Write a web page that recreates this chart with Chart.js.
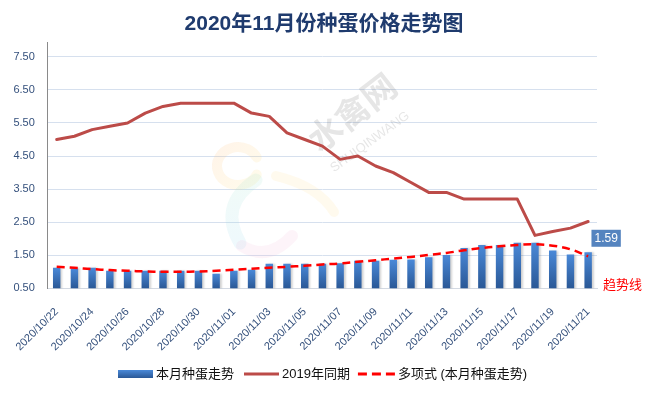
<!DOCTYPE html>
<html>
<head>
<meta charset="utf-8">
<script src="https://cdn.jsdelivr.net/npm/chart.js@4.4.1/dist/chart.umd.min.js"></script>
<style>
html,body{margin:0;padding:0;background:#ffffff;}
#wrap{width:647px;height:394px;position:relative;}
</style>
</head>
<body>
<div id="wrap"><canvas id="c" width="647" height="394"></canvas></div>
<script>
// ---- data ----
const categories = [
  '2020/10/22','2020/10/23','2020/10/24','2020/10/25','2020/10/26','2020/10/27','2020/10/28',
  '2020/10/29','2020/10/30','2020/10/31','2020/11/01','2020/11/02','2020/11/03','2020/11/04',
  '2020/11/05','2020/11/06','2020/11/07','2020/11/08','2020/11/09','2020/11/10','2020/11/11',
  '2020/11/12','2020/11/13','2020/11/14','2020/11/15','2020/11/16','2020/11/17','2020/11/18',
  '2020/11/19','2020/11/20','2020/11/21'
];
const eggPrices = [
  1.12, 1.10, 1.12, 1.03, 1.03, 1.03, 1.03, 1.03, 1.03, 0.94, 1.03, 1.06, 1.24, 1.24, 1.24, 1.24,
  1.26, 1.33, 1.33, 1.36, 1.37, 1.44, 1.51, 1.72, 1.81, 1.81, 1.88, 1.88, 1.64, 1.52, 1.59
];
const lastYearPrices = [
  5.0, 5.1, 5.3, 5.4, 5.5, 5.8, 6.0, 6.1, 6.1, 6.1, 6.1, 5.8, 5.7, 5.2, 5.0, 4.8,
  4.4, 4.5, 4.2, 4.0, 3.7, 3.4, 3.4, 3.2, 3.2, 3.2, 3.2, 2.1, 2.22, 2.32, 2.52
];
const trendValues = [
  1.15, 1.12, 1.08, 1.05, 1.03, 1.01, 1.00, 1.00, 1.01, 1.03, 1.06, 1.09, 1.12, 1.15, 1.18, 1.22,
  1.25, 1.30, 1.35, 1.40, 1.45, 1.51, 1.57, 1.65, 1.72, 1.77, 1.81, 1.83, 1.79, 1.68, 1.47
];
const yTickValues = [0.5, 1.5, 2.5, 3.5, 4.5, 5.5, 6.5, 7.5];
const seriesNames = ['本月种蛋走势', '2019年同期', '多项式 (本月种蛋走势)'];
const titleText = '2020年11月份种蛋价格走势图';
const trendNote = '趋势线';
const watermarkText = '水禽网';
const watermarkSub = 'SHUIQINWANG';

// ---- styles ----
const CJK = '"Liberation Sans","Noto Sans CJK SC",sans-serif';
const barTop = '#4A89D8', barBottom = '#2A5896';
const redLine = '#BC4B48', trendRed = '#FF0000';
const tickColor = '#34507C';

function barGradient(ctx, yTop, yBottom) {
  const g = ctx.createLinearGradient(0, yTop, 0, yBottom);
  g.addColorStop(0, barTop);
  g.addColorStop(1, barBottom);
  return g;
}

const decorPlugin = {
  id: 'decor',
  beforeDatasetsDraw(chart) {
    const c = chart.ctx;
    // faint logo
    c.save();
    c.lineCap = 'round';
    c.globalAlpha = 0.15;
    let g = c.createLinearGradient(215, 145, 260, 190);
    g.addColorStop(0, '#FFB36B'); g.addColorStop(1, '#FFE77A');
    c.strokeStyle = g; c.lineWidth = 10;
    c.beginPath(); c.ellipse(238, 166, 21, 19, 0, Math.PI * 0.15, Math.PI * 1.85); c.stroke();
    g = c.createLinearGradient(0, 175, 0, 250);
    g.addColorStop(0, '#9FE3C8'); g.addColorStop(1, '#8FD3F0');
    c.strokeStyle = g; c.lineWidth = 13;
    c.beginPath(); c.moveTo(256, 180); c.quadraticCurveTo(218, 205, 240, 243); c.stroke();
    c.strokeStyle = '#F2B3D6'; c.lineWidth = 12;
    c.beginPath(); c.moveTo(242, 246); c.quadraticCurveTo(268, 262, 292, 236); c.stroke();
    c.strokeStyle = '#FFE08A'; c.lineWidth = 10;
    c.beginPath(); c.moveTo(276, 176); c.quadraticCurveTo(318, 186, 334, 212); c.stroke();
    c.restore();
    // watermark text
    c.save();
    c.globalAlpha = 0.15;
    c.fillStyle = '#555555';
    c.translate(352, 112);
    c.rotate(-38 * Math.PI / 180);
    c.font = 'bold 34px "Noto Sans CJK SC",sans-serif';
    c.textAlign = 'center'; c.textBaseline = 'middle';
    c.fillText(watermarkText, 0, 0);
    c.restore();
    c.save();
    c.globalAlpha = 0.15;
    c.fillStyle = '#555555';
    c.translate(370, 142);
    c.rotate(-36 * Math.PI / 180);
    c.font = '13px "Liberation Sans",sans-serif';
    c.textAlign = 'center'; c.textBaseline = 'middle';
    c.fillText(watermarkSub, 0, 0);
    c.restore();
  },
  beforeDatasetDraw(chart, args) {
    if (args.index === 0) {
      const c = chart.ctx;
      c.save();
      c.shadowColor = 'rgba(0,0,0,0.18)';
      c.shadowOffsetX = 2;
      c.shadowOffsetY = 0;
      c.shadowBlur = 2;
    }
  },
  afterDatasetDraw(chart, args) {
    if (args.index === 0) chart.ctx.restore();
  },
  afterDraw(chart) {
    const c = chart.ctx;
    const area = chart.chartArea;
    // title
    c.save();
    c.font = 'bold 21px ' + CJK;
    c.fillStyle = '#1F3B6E';
    c.textAlign = 'center'; c.textBaseline = 'middle';
    c.fillText(titleText, 324, 24);
    c.restore();

    // data label for last bar
    const meta = chart.getDatasetMeta(0);
    const last = meta.data[meta.data.length - 1];
    const val = eggPrices[eggPrices.length - 1].toFixed(2);
    c.save();
    c.font = '12px "Liberation Sans",sans-serif';
    const tw = c.measureText(val).width;
    const bw = tw + 6, bh = 17;
    const bx = last.x + 18 - bw / 2, by = last.y - 14 - bh / 2;
    c.fillStyle = '#5584BF';
    c.fillRect(bx, by, bw, bh);
    c.fillStyle = '#FFFFFF';
    c.textAlign = 'center'; c.textBaseline = 'middle';
    c.fillText(val, bx + bw / 2, by + bh / 2 + 0.5);
    c.restore();

    // trend note
    c.save();
    c.font = '13px "Noto Sans CJK SC",sans-serif';
    c.fillStyle = trendRed;
    c.textAlign = 'left'; c.textBaseline = 'middle';
    c.fillText(trendNote, area.right + 6, area.bottom - 4);
    c.restore();

    // legend
    c.save();
    c.font = '13px ' + CJK;
    c.textBaseline = 'middle';
    const ly = 374;
    let x = 118;
    const sw = 35;
    c.fillStyle = barGradient(c, ly - 4, ly + 4);
    c.fillRect(x, ly - 4, sw, 8);
    x += sw + 3;
    c.fillStyle = '#111111';
    c.fillText(seriesNames[0], x, ly);
    x += c.measureText(seriesNames[0]).width + 10;
    c.strokeStyle = redLine; c.lineWidth = 3;
    c.beginPath(); c.moveTo(x, ly); c.lineTo(x + sw, ly); c.stroke();
    x += sw + 3;
    c.fillText(seriesNames[1], x, ly);
    x += c.measureText(seriesNames[1]).width + 8;
    c.strokeStyle = trendRed; c.lineWidth = 3;
    c.setLineDash([9, 5]);
    c.beginPath(); c.moveTo(x, ly); c.lineTo(x + 37, ly); c.stroke();
    c.setLineDash([]);
    x += 37 + 3;
    c.fillText(seriesNames[2], x, ly);
    c.restore();
  }
};

const chart = new Chart(document.getElementById('c'), {
  type: 'bar',
  data: {
    labels: categories,
    datasets: [
      {
        type: 'bar',
        label: seriesNames[0],
        data: eggPrices,
        order: 3,
        backgroundColor(ctx) {
          const ch = ctx.chart;
          if (!ch.chartArea || !ch.scales.y || ctx.raw === undefined) return barTop;
          const yTop = ch.scales.y.getPixelForValue(ctx.raw);
          return barGradient(ch.ctx, yTop, ch.chartArea.bottom);
        },
        borderWidth: 0,
        barPercentage: 0.42,
        categoryPercentage: 1.0
      },
      {
        type: 'line',
        label: seriesNames[1],
        data: lastYearPrices,
        order: 2,
        borderColor: redLine,
        borderWidth: 3,
        pointRadius: 0,
        tension: 0,
        borderJoinStyle: 'round',
        borderCapStyle: 'round',
        fill: false
      },
      {
        type: 'line',
        label: seriesNames[2],
        data: trendValues,
        order: 1,
        borderColor: trendRed,
        borderWidth: 2.5,
        borderDash: [8, 5],
        pointRadius: 0,
        tension: 0.4,
        fill: false
      }
    ]
  },
  options: {
    responsive: false,
    animation: false,
    devicePixelRatio: 1,
    layout: { padding: { left: 0, right: 50, top: 42, bottom: 0 } },
    plugins: {
      legend: { display: false },
      title: { display: false },
      tooltip: { enabled: false }
    },
    scales: {
      x: {
        grid: { display: false, drawTicks: false },
        border: { display: true, color: '#D3D9E2', width: 1 },
        ticks: {
          autoSkip: false,
          minRotation: 45,
          maxRotation: 45,
          padding: 17,
          color: tickColor,
          font: { family: '"Liberation Sans",sans-serif', size: 11 },
          callback(value, index) { return index % 2 === 0 ? categories[index] : ''; }
        },
        afterFit(scale) { scale.height = 105.7; }
      },
      y: {
        min: 0.5,
        max: 7.95,
        afterBuildTicks(scale) { scale.ticks = yTickValues.map(v => ({ value: v })); },
        grid: { color: '#D6E0EE', lineWidth: 1, drawTicks: false },
        border: { display: true, color: '#8A8A8A', width: 1 },
        ticks: {
          padding: 13,
          color: tickColor,
          font: { family: '"Liberation Sans",sans-serif', size: 11 },
          callback(value) { return Number(value).toFixed(2); }
        },
        afterFit(scale) { scale.width = 47; }
      }
    }
  },
  plugins: [decorPlugin]
});
</script>
</body>
</html>
